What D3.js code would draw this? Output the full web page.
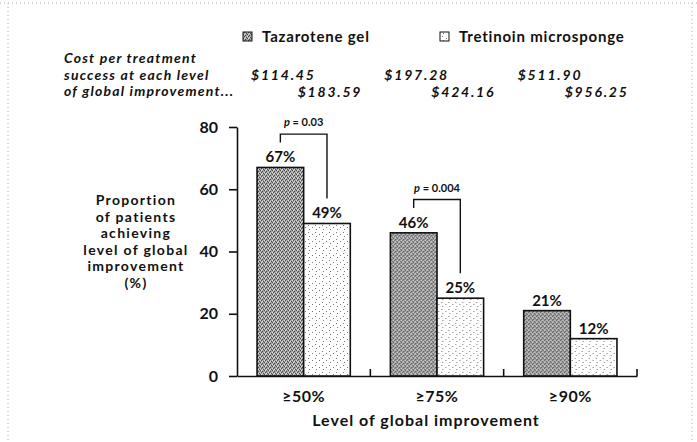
<!DOCTYPE html>
<html>
<head>
<meta charset="utf-8">
<script src="https://cdn.jsdelivr.net/npm/d3@7"></script>
<style>
  body { margin: 0; background: #fff; }
  svg { display: block; font-family: Lato, 'Open Sans', sans-serif; }
</style>
</head>
<body>
<svg id="chart" width="697" height="442"></svg>
<script>
const levels = ['≥50%', '≥75%', '≥90%']
const series = ['Tazarotene gel', 'Tretinoin microsponge']
const tazarotene = [67, 46, 21]
const tretinoin = [49, 25, 12]
const tazCost = ['$114.45', '$197.28', '$511.90']
const tretCost = ['$183.59', '$424.16', '$956.25']
const yTicks = [0, 20, 40, 60, 80]
const pLevels = ['≥50%', '≥75%']
const pLabels = ['0.03', '0.004']
const yTitle = ['Proportion', 'of patients', 'achieving', 'level of global', 'improvement', '(%)']
const costTitle = ['Cost per treatment', 'success at each level', 'of global improvement...']
const xTitle = 'Level of global improvement'

const svg = d3.select('#chart')

// scanned page edge
const edge = svg.append('g').attr('stroke', '#aaa').attr('stroke-dasharray', '1,3')
edge.append('line').attr('x1', 0).attr('x2', 697).attr('y1', 3).attr('y2', 3)
edge.append('line').attr('x1', 8).attr('x2', 8).attr('y1', 3).attr('y2', 442)
edge.append('line').attr('x1', 692).attr('x2', 692).attr('y1', 3).attr('y2', 442)

// stipple fills
const defs = svg.append('defs')
const dark = defs.append('pattern').attr('id', 'taz').attr('patternUnits', 'userSpaceOnUse')
  .attr('width', 4).attr('height', 4)
dark.append('rect').attr('width', 4).attr('height', 4).attr('fill', '#a4a4a4')
;[[0, 0], [2, 1], [1, 3], [3, 2]].forEach(([x, y]) =>
  dark.append('rect').attr('x', x).attr('y', y).attr('width', 1).attr('height', 1).attr('fill', '#4a4a4a'))
;[[1, 1], [3, 0], [0, 2]].forEach(([x, y]) =>
  dark.append('rect').attr('x', x).attr('y', y).attr('width', 1).attr('height', 1).attr('fill', '#dedede'))

const light = defs.append('pattern').attr('id', 'tret').attr('patternUnits', 'userSpaceOnUse')
  .attr('width', 7).attr('height', 7)
light.append('rect').attr('width', 7).attr('height', 7).attr('fill', '#fff')
;[[1, 1], [5, 3], [2, 5]].forEach(([x, y]) =>
  light.append('rect').attr('x', x).attr('y', y).attr('width', 1).attr('height', 1).attr('fill', '#777'))

const fills = { 'Tazarotene gel': 'url(#taz)', 'Tretinoin microsponge': 'url(#tret)' }

const x0 = d3.scaleBand().domain(levels).range([237, 637])
const x1 = d3.scaleBand().domain(series).range([0, x0.bandwidth()]).paddingInner(0).paddingOuter(0.43)
const y = d3.scaleLinear().domain([0, 80]).range([376, 127])
const barCenter = (level, s) => x0(level) + x1(s) + x1.bandwidth() / 2

const rows = levels.map((level, i) => ({
  level,
  bars: [
    { s: series[0], v: tazarotene[i], cost: tazCost[i] },
    { s: series[1], v: tretinoin[i], cost: tretCost[i] },
  ],
}))

// legend
const legendX = [243, 440]
series.forEach((s, i) => {
  svg.append('rect').attr('x', legendX[i]).attr('y', 32).attr('width', 9).attr('height', 9)
    .attr('fill', fills[s]).attr('stroke', '#111').attr('stroke-width', 1)
  svg.append('text').attr('x', legendX[i] + 19).attr('y', 42)
    .attr('font-size', 15).attr('font-weight', 700).attr('letter-spacing', 0.8)
    .attr('fill', '#111').text(s)
})

// cost per treatment
svg.append('g').selectAll('text').data(costTitle).join('text')
  .attr('x', 64).attr('y', (d, i) => 63 + i * 16.5)
  .attr('font-size', 14).attr('font-weight', 700).attr('font-style', 'italic')
  .attr('letter-spacing', 1.2).attr('fill', '#111')
  .text((d) => d)

rows.forEach((r) => {
  r.bars.forEach((b, j) => {
    svg.append('text').attr('x', barCenter(r.level, b.s) + 3).attr('y', 80 + j * 16.5)
      .attr('text-anchor', 'middle').attr('font-size', 14).attr('font-weight', 700)
      .attr('font-style', 'italic').attr('letter-spacing', 1.8).attr('fill', '#111').text(b.cost)
  })
})

// y title
svg.append('g').selectAll('text').data(yTitle).join('text')
  .attr('x', 136).attr('y', (d, i) => 205 + i * 16.5)
  .attr('text-anchor', 'middle').attr('font-size', 14).attr('font-weight', 700)
  .attr('letter-spacing', 1.3).attr('fill', '#111')
  .text((d) => d)

// axes
const yAxis = svg.append('g').attr('transform', 'translate(237,0)')
  .call(d3.axisLeft(y).tickValues(yTicks).tickSize(8).tickSizeOuter(0).tickPadding(11))
yAxis.selectAll('text').attr('font-size', 16).attr('font-weight', 700).attr('fill', '#111')
  .attr('font-family', 'Lato, sans-serif')
yAxis.selectAll('line, path').attr('stroke', '#111').attr('stroke-width', 1.6)

const xAxis = svg.append('g').attr('transform', 'translate(0,376)')
  .call(d3.axisBottom(x0).tickSize(0).tickPadding(15))
xAxis.selectAll('text').attr('font-size', 16).attr('font-weight', 700).attr('fill', '#111')
  .attr('font-family', 'Lato, sans-serif').attr('letter-spacing', 0.5)
xAxis.select('path').attr('stroke', '#111').attr('stroke-width', 1.6)
xAxis.selectAll('.band-end').data(levels).join('line').attr('class', 'band-end')
  .attr('x1', (d) => x0(d) + x0.bandwidth()).attr('x2', (d) => x0(d) + x0.bandwidth())
  .attr('y1', 0).attr('y2', -7).attr('stroke', '#111').attr('stroke-width', 1.6)

svg.append('text').attr('x', 426).attr('y', 426).attr('text-anchor', 'middle')
  .attr('font-size', 16).attr('font-weight', 700).attr('letter-spacing', 1)
  .attr('fill', '#111').text(xTitle)

// bars
const groups = svg.append('g').selectAll('g').data(rows).join('g')
  .attr('transform', (d) => `translate(${x0(d.level)},0)`)

groups.selectAll('rect').data((d) => d.bars).join('rect')
  .attr('x', (d) => x1(d.s)).attr('y', (d) => y(d.v))
  .attr('width', x1.bandwidth()).attr('height', (d) => y(0) - y(d.v))
  .attr('fill', (d) => fills[d.s]).attr('stroke', '#111').attr('stroke-width', 1.6)

groups.selectAll('text').data((d) => d.bars).join('text')
  .attr('x', (d) => x1(d.s) + x1.bandwidth() / 2).attr('y', (d) => y(d.v) - 5)
  .attr('text-anchor', 'middle').attr('font-size', 15).attr('font-weight', 700).attr('fill', '#111')
  .text((d) => d.v + '%')

// significance brackets
pLevels.forEach((level, i) => {
  const k = levels.indexOf(level)
  const a = tazarotene[k]
  const b = tretinoin[k]
  const xl = barCenter(level, series[0])
  const xr = barCenter(level, series[1])
  const top = y(a + 10.7)
  svg.append('path')
    .attr('d', `M${xl},${y(a + 8)}V${top}H${xr}V${y(b + 8)}`)
    .attr('fill', 'none').attr('stroke', '#111').attr('stroke-width', 1.4)
  const t = svg.append('text').attr('x', (xl + xr) / 2).attr('y', top - 8)
    .attr('text-anchor', 'middle').attr('font-size', 11).attr('font-weight', 700).attr('fill', '#111')
  t.append('tspan').attr('font-style', 'italic').text('p')
  t.append('tspan').text(' = ' + pLabels[i])
})
</script>
</body>
</html>
